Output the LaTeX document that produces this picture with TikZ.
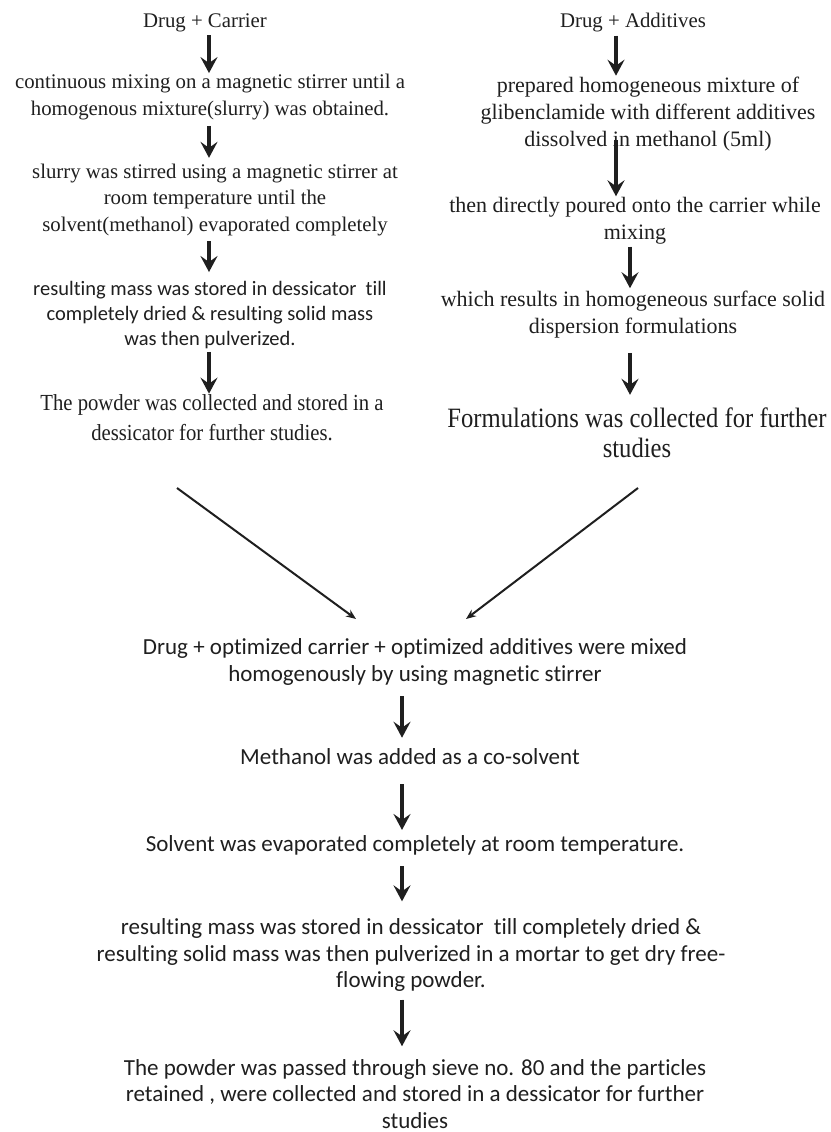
\documentclass[tikz,border=0pt]{standalone}
\usepackage{fontspec}
\setmainfont{Liberation Serif}
\newfontfamily\calibfont[Ligatures=NoCommon]{Carlito}
\newfontfamily\narrowfont[FakeStretch=0.9]{Liberation Serif}
\newfontfamily\narrowbigfont[FakeStretch=0.88]{Liberation Serif}
\usetikzlibrary{arrows.meta}
\definecolor{inkgray}{gray}{0.12}
\tikzset{
	stepleft/.style={font=\fontsize{20.8}{26.5}\selectfont, align=center, inner sep=1pt, text=inkgray},
	stepright/.style={font=\fontsize{22}{27}\selectfont, align=center, inner sep=1pt, text=inkgray},
	stepcalib/.style={font=\calibfont\fontsize{20.5}{25}\selectfont, align=center, inner sep=1pt, text=inkgray},
	stepnarrow/.style={font=\narrowfont\fontsize{23}{30}\selectfont, align=center, inner sep=1pt, text=inkgray},
	stepnarrowbig/.style={font=\narrowbigfont\fontsize{28}{30}\selectfont, align=center, inner sep=1pt, text=inkgray},
	stepbottom/.style={font=\calibfont\fontsize{23}{26.5}\selectfont, align=center, inner sep=1pt, text=inkgray},
	downarrow/.style={draw=inkgray, fill=inkgray, line width=3.2pt, -{Stealth[length=16pt,width=17pt,inset=6pt]}},
	slantarrow/.style={draw=inkgray, fill=inkgray, line width=2pt, -{Stealth[length=10pt,width=8pt]}}
}

\begin{document}
\begin{tikzpicture}[x=1pt, y=-1pt]
	%%%%% START %%%%%
	\useasboundingbox[fill=white] (0, 0) rectangle (830, 1132);
	
	% arrow columns
	\coordinate (colL) at (209, 0);
	\coordinate (colRa) at (616, 0);
	\coordinate (colRb) at (630, 0);
	\coordinate (colB) at (402, 0);
	
	% left branch
	\node[stepleft] (L0) at (205, 23) {Drug + Carrier};
	\node[stepleft] (L1) at (210, 97) {continuous mixing on a magnetic stirrer until a\\ homogenous mixture(slurry) was obtained.};
	\node[stepleft] (L2) at (215, 200) {slurry was stirred using a magnetic stirrer at\\ room temperature until the\\ solvent(methanol) evaporated completely};
	\node[stepcalib] (L3) at (210, 315) {resulting mass was stored in dessicator~ till\\ completely dried \& resulting solid mass\\ was then pulverized.};
	\node[stepnarrow] (L4) at (212, 418) {The powder was collected and stored in a\\ dessicator for further studies.};
	
	\draw[downarrow, shorten <=2pt] (L0.south -| colL) -- (L1.north -| colL);
	\draw[downarrow, shorten <=5pt, shorten >=5pt] (L1.south -| colL) -- (L2.north -| colL);
	\draw[downarrow, shorten <=4pt, shorten >=8pt] (L2.south -| colL) -- (L3.north -| colL);
	\draw[downarrow, shorten <=2pt] (L3.south -| colL) -- (L4.north -| colL);
	
	% right branch
	\node[stepleft] (R0) at (633, 23) {Drug + Additives};
	\node[stepright] (R1) at (648, 114) {prepared homogeneous mixture of\\ glibenclamide with different additives\\ dissolved in methanol (5ml)};
	\node[stepright] (R2) at (635, 221) {then directly poured onto the carrier while\\ mixing};
	\node[stepright] (R3) at (633, 315) {which results in homogeneous surface solid\\ dispersion formulations};
	\node[stepnarrowbig] (R4) at (637, 433) {Formulations was collected for further\\ studies};
	
	\draw[downarrow, shorten <=2pt] (R0.south -| colRa) -- (R1.north -| colRa);
	\draw[downarrow, shorten <=-12pt] (R1.south -| colRa) -- (R2.north -| colRa);
	\draw[downarrow, shorten <=1pt, shorten >=2pt] (R2.south -| colRb) -- (R3.north -| colRb);
	\draw[downarrow, shorten <=13pt, shorten >=12pt] (R3.south -| colRb) -- (R4.north -| colRb);
	
	% joining
	\coordinate (L4out) at (177, 488);
	\coordinate (R4out) at (638, 488);
	\coordinate (B1inL) at (356, 619);
	\coordinate (B1inR) at (466, 619);
	\draw[slantarrow] (L4out) -- (B1inL);
	\draw[slantarrow] (R4out) -- (B1inR);
	
	% common steps
	\node[stepbottom] (B1) at (415, 662) {Drug + optimized carrier + optimized additives were mixed\\ homogenously by using magnetic stirrer};
	\node[stepbottom] (B2) at (410, 757) {Methanol was added as a co-solvent};
	\node[stepbottom] (B3) at (415, 845) {Solvent was evaporated completely at room temperature.};
	\node[stepbottom] (B4) at (411, 955) {resulting mass was stored in dessicator~ till completely dried \&\\ resulting solid mass was then pulverized in a mortar to get dry free-\\ flowing powder.};
	\node[stepbottom] (B5) at (415, 1094) {The powder was passed through sieve no. 80 and the particles\\ retained , were collected and stored in a dessicator for further\\ studies};
	
	\draw[downarrow, shorten <=10pt, shorten >=10pt] (B1.south -| colB) -- (B2.north -| colB);
	\draw[downarrow, shorten <=18pt, shorten >=4pt] (B2.south -| colB) -- (B3.north -| colB);
	\draw[downarrow, shorten <=10pt, shorten >=16pt] (B3.south -| colB) -- (B4.north -| colB);
	\draw[downarrow, shorten <=7pt, shorten >=12pt] (B4.south -| colB) -- (B5.north -| colB);
	%%%%% END %%%%%
\end{tikzpicture}
\end{document}
